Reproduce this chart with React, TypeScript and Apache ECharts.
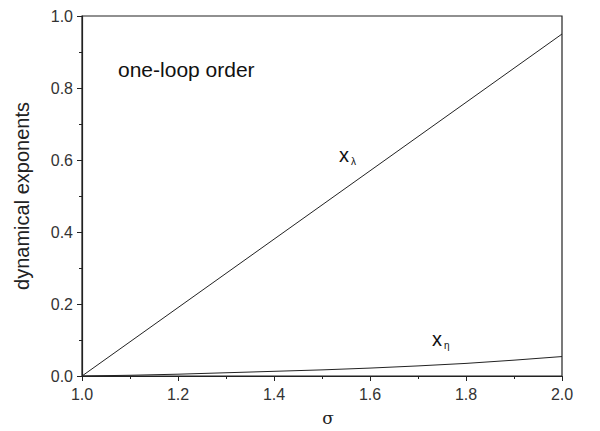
import React, { useEffect, useRef } from "react";
import * as echarts from "echarts";

const sigma = [1.0, 1.1, 1.2, 1.3, 1.4, 1.5, 1.6, 1.7, 1.8, 1.9, 2.0];
const xLambda = [0.0, 0.095, 0.19, 0.285, 0.38, 0.475, 0.57, 0.665, 0.76, 0.855, 0.95];
const xEta = [0.0, 0.002, 0.005, 0.009, 0.013, 0.017, 0.022, 0.028, 0.035, 0.044, 0.054];

const FONT = "'Liberation Sans', Arial, sans-serif";

export default function App() {
  const ref = useRef<HTMLDivElement>(null);
  useEffect(() => {
    if (!ref.current) return;
    const chart = echarts.init(ref.current, undefined, { renderer: "svg" });
    const mk = (ys: number[]) => sigma.map((s, i) => [s, ys[i]]);
    chart.setOption({
      animation: false,
      backgroundColor: "#fff",
      grid: { left: 82, right: 38, top: 16, bottom: 54, show: true, borderColor: "#222", borderWidth: 1.2 },
      xAxis: {
        type: "value",
        min: 1.0,
        max: 2.0,
        interval: 0.2,
        name: "σ",
        nameLocation: "middle",
        nameGap: 33,
        nameTextStyle: { fontFamily: "'DejaVu Serif', serif", fontSize: 17, color: "#222", padding: [0, 0, 0, 12] },
        axisLine: { show: true, lineStyle: { color: "#222", width: 1.2 } },
        axisTick: { show: true, inside: false, length: 5, lineStyle: { color: "#222" } },
        minorTick: { show: true, splitNumber: 2, length: 3, lineStyle: { color: "#222" } },
        splitLine: { show: false },
        axisLabel: { fontFamily: FONT, fontSize: 16, color: "#333", margin: 10, formatter: (v: number) => v.toFixed(1) },
      },
      yAxis: {
        type: "value",
        min: 0,
        max: 1.0,
        interval: 0.2,
        name: "dynamical exponents",
        nameLocation: "middle",
        nameGap: 50,
        nameTextStyle: { fontFamily: FONT, fontSize: 20, color: "#222" },
        axisLine: { show: true, lineStyle: { color: "#222", width: 1.2 } },
        axisTick: { show: true, inside: false, length: 5, lineStyle: { color: "#222" } },
        minorTick: { show: true, splitNumber: 2, length: 3, lineStyle: { color: "#222" } },
        splitLine: { show: false },
        axisLabel: { fontFamily: FONT, fontSize: 16, color: "#333", margin: 9, formatter: (v: number) => v.toFixed(1) },
      },
      series: [
        { type: "line", data: mk(xLambda), showSymbol: false, lineStyle: { color: "#222", width: 1 } },
        { type: "line", data: mk(xEta), showSymbol: false, lineStyle: { color: "#222", width: 1 } },
      ],
      graphic: [
        { type: "text", left: 118, top: 59, style: { text: "one-loop order", fontFamily: FONT, fontSize: 21, fill: "#111" } },
        {
          type: "text", left: 339, top: 145,
          style: {
            text: "{a|x}{b|λ}",
            rich: {
              a: { fontFamily: FONT, fontSize: 20, fill: "#111" },
              b: { fontFamily: FONT, fontSize: 10, fill: "#111", padding: [12, 0, 0, 2] },
            },
          },
        },
        {
          type: "text", left: 432, top: 329,
          style: {
            text: "{a|x}{b|η}",
            rich: {
              a: { fontFamily: FONT, fontSize: 20, fill: "#111" },
              b: { fontFamily: FONT, fontSize: 10, fill: "#111", padding: [12, 0, 0, 2] },
            },
          },
        },
      ],
    });
    return () => chart.dispose();
  }, []);
  return <div ref={ref} style={{ position: "absolute", left: 0, top: 0, width: 600, height: 431 }} />;
}
